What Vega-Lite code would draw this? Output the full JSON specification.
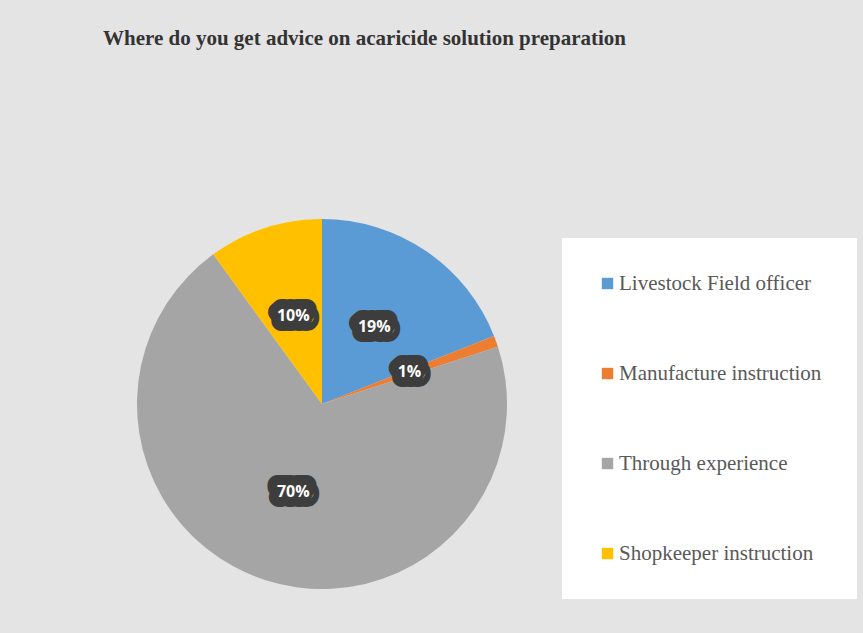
{
  "$schema": "https://vega.github.io/schema/vega-lite/v6.json",
  "width": 370,
  "height": 370,
  "autosize": {"type": "none"},
  "padding": {"left": 137, "top": 219, "right": 356, "bottom": 44},
  "background": "#e4e4e4",
  "title": {
    "text": "Where do you get advice on acaricide solution preparation",
    "anchor": "start",
    "frame": "group",
    "dx": -34,
    "offset": 170,
    "font": "Liberation Serif",
    "fontSize": 21,
    "fontWeight": "bold",
    "color": "#333333"
  },
  "config": {"view": {"stroke": null}},
  "data": {
    "values": [
      {"source": "Livestock Field officer", "pct": 19, "label": "19%", "order": 1},
      {"source": "Manufacture instruction", "pct": 1, "label": "1%", "order": 2},
      {"source": "Through experience", "pct": 70, "label": "70%", "order": 3},
      {"source": "Shopkeeper  instruction", "pct": 10, "label": "10%", "order": 4}
    ]
  },
  "encoding": {
    "theta": {"field": "pct", "type": "quantitative", "stack": true},
    "order": {"field": "order", "type": "quantitative"}
  },
  "layer": [
    {
      "mark": {"type": "arc"},
      "encoding": {
        "color": {
          "field": "source",
          "type": "nominal",
          "sort": ["Livestock Field officer", "Manufacture instruction", "Through experience", "Shopkeeper  instruction"],
          "scale": {
            "domain": ["Livestock Field officer", "Manufacture instruction", "Through experience", "Shopkeeper  instruction"],
            "range": ["#5B9BD5", "#ED7D31", "#A5A5A5", "#FFC000"]
          },
          "legend": {
            "title": null,
            "orient": "none",
            "legendX": 425,
            "legendY": 19,
            "fillColor": "white",
            "padding": 35,
            "symbolType": "square",
            "symbolSize": 130,
            "symbolStrokeWidth": 0,
            "labelFont": "Liberation Serif",
            "labelFontSize": 21,
            "labelColor": "#595959",
            "labelOffset": 1,
            "labelLimit": 400,
            "rowPadding": 68
          }
        }
      }
    },
    {
      "mark": {
        "type": "text",
        "radius": 93,
        "fill": "#3d3d3d",
        "stroke": "#3d3d3d",
        "strokeWidth": 20,
        "strokeJoin": "round",
        "font": "Open Sans",
        "fontSize": 16,
        "fontWeight": "bold"
      },
      "encoding": {"text": {"field": "label"}}
    },
    {
      "mark": {
        "type": "text",
        "radius": 93,
        "fill": "white",
        "font": "Open Sans",
        "fontSize": 16,
        "fontWeight": "bold"
      },
      "encoding": {"text": {"field": "label"}}
    }
  ]
}
